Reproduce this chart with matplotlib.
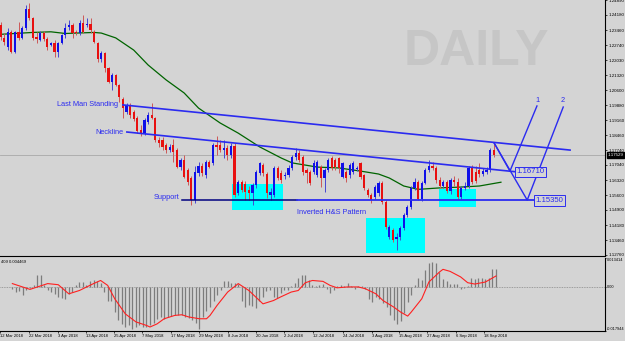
import numpy as np
import matplotlib
matplotlib.use("Agg")
import matplotlib.pyplot as plt
from matplotlib.patches import Rectangle
from matplotlib.transforms import blended_transform_factory

plt.rcParams['font.family'] = ['Liberation Sans', 'DejaVu Sans']

# EURUSD daily bars, mid March 2018 -> 21 Sep 2018
opens = [1.2370, 1.2309, 1.2266, 1.2337, 1.2242, 1.2337, 1.2309, 1.2356, 1.2447, 1.2404,
         1.2313, 1.2299, 1.2332, 1.2304, 1.2275, 1.2285, 1.2242, 1.2285, 1.2323, 1.2361,
         1.2370, 1.2337, 1.2332, 1.2380, 1.2370, 1.2375, 1.2337, 1.2285, 1.2209, 1.2237,
         1.2166, 1.2099, 1.2132, 1.2085, 1.2018, 1.1956, 1.1985, 1.1956, 1.1928, 1.1871,
         1.1856, 1.1909, 1.1942, 1.1928, 1.1823, 1.1823, 1.1799, 1.1775, 1.1799, 1.1775,
         1.1694, 1.1728, 1.1680, 1.1642, 1.1537, 1.1666, 1.1699, 1.1656, 1.1718, 1.1714,
         1.1799, 1.1799, 1.1775, 1.1785, 1.1752, 1.1794, 1.1571, 1.1623, 1.1614, 1.1585,
         1.1571, 1.1609, 1.1666, 1.1704, 1.1661, 1.1561, 1.1561, 1.1690, 1.1666, 1.1652,
         1.1656, 1.1690, 1.1742, 1.1761, 1.1742, 1.1680, 1.1671, 1.1671, 1.1656, 1.1694,
         1.1642, 1.1680, 1.1737, 1.1728, 1.1737, 1.1647, 1.1671, 1.1656, 1.1671, 1.1685,
         1.1714, 1.1656, 1.1585, 1.1561, 1.1552, 1.1571, 1.1618, 1.1528, 1.1361, 1.1395,
         1.1352, 1.1361, 1.1404, 1.1466, 1.1504, 1.1595, 1.1623, 1.1542, 1.1618, 1.1680,
         1.1699, 1.1690, 1.1633, 1.1604, 1.1623, 1.1580, 1.1633, 1.1623, 1.1552, 1.1595,
         1.1604, 1.1690, 1.1671, 1.1680, 1.1661, 1.1671, 1.1680, 1.1775]
closes = [1.2313, 1.2290, 1.2337, 1.2242, 1.2337, 1.2309, 1.2356, 1.2447, 1.2404, 1.2309,
          1.2304, 1.2332, 1.2304, 1.2266, 1.2285, 1.2242, 1.2285, 1.2323, 1.2356, 1.2370,
          1.2332, 1.2332, 1.2380, 1.2337, 1.2375, 1.2347, 1.2290, 1.2209, 1.2237, 1.2166,
          1.2099, 1.2132, 1.2085, 1.2028, 1.1975, 1.1990, 1.1942, 1.1923, 1.1866, 1.1856,
          1.1918, 1.1942, 1.1928, 1.1823, 1.1809, 1.1790, 1.1775, 1.1790, 1.1766, 1.1694,
          1.1728, 1.1647, 1.1623, 1.1537, 1.1671, 1.1699, 1.1666, 1.1718, 1.1694, 1.1799,
          1.1790, 1.1775, 1.1785, 1.1752, 1.1794, 1.1561, 1.1623, 1.1585, 1.1576, 1.1571,
          1.1609, 1.1671, 1.1714, 1.1666, 1.1571, 1.1576, 1.1690, 1.1642, 1.1633, 1.1656,
          1.1690, 1.1742, 1.1761, 1.1728, 1.1671, 1.1666, 1.1618, 1.1714, 1.1718, 1.1642,
          1.1680, 1.1728, 1.1690, 1.1694, 1.1690, 1.1714, 1.1642, 1.1704, 1.1714, 1.1690,
          1.1647, 1.1595, 1.1561, 1.1537, 1.1599, 1.1618, 1.1528, 1.1409, 1.1409, 1.1347,
          1.1361, 1.1404, 1.1466, 1.1504, 1.1595, 1.1623, 1.1542, 1.1618, 1.1680, 1.1699,
          1.1690, 1.1633, 1.1604, 1.1623, 1.1580, 1.1633, 1.1623, 1.1552, 1.1595, 1.1604,
          1.1690, 1.1623, 1.1628, 1.1661, 1.1675, 1.1680, 1.1775, 1.1752]
highs = [1.2385, 1.2332, 1.2356, 1.2347, 1.2342, 1.2385, 1.2366, 1.2466, 1.2475, 1.2408,
         1.2337, 1.2342, 1.2342, 1.2313, 1.2290, 1.2299, 1.2290, 1.2328, 1.2380, 1.2394,
         1.2380, 1.2347, 1.2394, 1.2418, 1.2404, 1.2404, 1.2347, 1.2290, 1.2247, 1.2242,
         1.2170, 1.2142, 1.2137, 1.2090, 1.2028, 1.1999, 1.1999, 1.1966, 1.1937, 1.1894,
         1.1928, 1.1956, 1.1999, 1.1933, 1.1837, 1.1837, 1.1809, 1.1804, 1.1828, 1.1785,
         1.1737, 1.1752, 1.1690, 1.1652, 1.1699, 1.1718, 1.1714, 1.1728, 1.1728, 1.1809,
         1.1842, 1.1823, 1.1823, 1.1799, 1.1809, 1.1809, 1.1633, 1.1633, 1.1628, 1.1604,
         1.1618, 1.1680, 1.1718, 1.1714, 1.1671, 1.1595, 1.1699, 1.1699, 1.1680, 1.1671,
         1.1704, 1.1752, 1.1785, 1.1775, 1.1752, 1.1690, 1.1680, 1.1728, 1.1728, 1.1704,
         1.1690, 1.1737, 1.1747, 1.1737, 1.1742, 1.1718, 1.1680, 1.1714, 1.1723, 1.1699,
         1.1718, 1.1661, 1.1595, 1.1571, 1.1609, 1.1628, 1.1628, 1.1537, 1.1418, 1.1404,
         1.1380, 1.1414, 1.1476, 1.1514, 1.1604, 1.1642, 1.1633, 1.1628, 1.1690, 1.1728,
         1.1718, 1.1699, 1.1647, 1.1633, 1.1633, 1.1642, 1.1652, 1.1642, 1.1604, 1.1623,
         1.1699, 1.1704, 1.1699, 1.1714, 1.1690, 1.1694, 1.1785, 1.1809]
lows = [1.2299, 1.2275, 1.2251, 1.2237, 1.2237, 1.2299, 1.2304, 1.2347, 1.2394, 1.2299,
        1.2285, 1.2294, 1.2294, 1.2251, 1.2270, 1.2218, 1.2218, 1.2280, 1.2309, 1.2347,
        1.2309, 1.2323, 1.2323, 1.2332, 1.2361, 1.2332, 1.2285, 1.2194, 1.2194, 1.2147,
        1.2094, 1.2061, 1.2080, 1.2004, 1.1928, 1.1947, 1.1928, 1.1914, 1.1856, 1.1842,
        1.1847, 1.1899, 1.1923, 1.1813, 1.1790, 1.1775, 1.1761, 1.1766, 1.1718, 1.1690,
        1.1680, 1.1642, 1.1609, 1.1514, 1.1523, 1.1652, 1.1652, 1.1642, 1.1690, 1.1704,
        1.1752, 1.1766, 1.1737, 1.1728, 1.1737, 1.1552, 1.1561, 1.1576, 1.1537, 1.1537,
        1.1514, 1.1595, 1.1656, 1.1652, 1.1547, 1.1537, 1.1552, 1.1633, 1.1618, 1.1637,
        1.1647, 1.1680, 1.1728, 1.1718, 1.1656, 1.1618, 1.1609, 1.1661, 1.1647, 1.1599,
        1.1576, 1.1671, 1.1680, 1.1680, 1.1666, 1.1642, 1.1623, 1.1642, 1.1661, 1.1675,
        1.1637, 1.1585, 1.1552, 1.1523, 1.1542, 1.1557, 1.1518, 1.1399, 1.1352, 1.1338,
        1.1299, 1.1347, 1.1395, 1.1457, 1.1495, 1.1585, 1.1537, 1.1533, 1.1614, 1.1671,
        1.1680, 1.1618, 1.1595, 1.1595, 1.1571, 1.1566, 1.1604, 1.1542, 1.1542, 1.1585,
        1.1595, 1.1614, 1.1618, 1.1647, 1.1652, 1.1661, 1.1671, 1.1742]

# moving average (green), read at a few bars
ma_bar = [0, 9, 14, 18, 26, 28, 32, 37, 41, 46, 51, 55, 61, 66, 72, 78, 81, 88, 94,
          100, 105, 108, 112, 116, 122, 128, 133, 139]
ma_val = [1.2326, 1.2335, 1.2338, 1.2330, 1.2335, 1.2332, 1.2309, 1.2251, 1.2180, 1.2109,
          1.2047, 1.1975, 1.1904, 1.1856, 1.1790, 1.1737, 1.1714, 1.1694, 1.1690,
          1.1675, 1.1661, 1.1642, 1.1604, 1.1588, 1.1595, 1.1599, 1.1604, 1.1622]

# MACD histogram, one value per bar
macd_hist = [-0.0009, -0.0023, -0.0018, -0.0036, -0.0014, -0.0005, 0.0009, 0.0054, 0.0054, 0.0009,
             -0.0014, -0.0023, -0.0032, -0.0045, -0.0050, -0.0054, -0.0032, -0.0023, 0.0009, 0.0023,
             0.0023, 0.0009, 0.0027, 0.0032, 0.0027, 0.0018, -0.0023, -0.0063, -0.0063, -0.0113,
             -0.0149, -0.0167, -0.0180, -0.0171, -0.0189, -0.0180, -0.0171, -0.0180, -0.0180, -0.0171,
             -0.0162, -0.0144, -0.0135, -0.0144, -0.0135, -0.0131, -0.0126, -0.0126, -0.0126, -0.0135,
             -0.0140, -0.0149, -0.0162, -0.0189, -0.0135, -0.0108, -0.0090, -0.0063, -0.0036, -0.0014,
             0.0027, 0.0027, 0.0018, 0.0018, 0.0014, -0.0063, -0.0090, -0.0081, -0.0086, -0.0095,
             -0.0063, -0.0045, -0.0018, -0.0014, -0.0045, -0.0050, -0.0027, -0.0014, -0.0014, 0.0005,
             0.0018, 0.0041, 0.0054, 0.0054, 0.0032, 0.0009, 0.0005, 0.0009, 0.0014, -0.0009,
             -0.0027, -0.0014, 0.0005, 0.0009, 0.0005, 0.0018, 0.0005, -0.0009, 0.0005, 0.0005,
             -0.0009, -0.0054, -0.0068, -0.0045, -0.0054, -0.0072, -0.0090, -0.0126, -0.0149, -0.0167,
             -0.0153, -0.0117, -0.0068, -0.0036, 0.0009, 0.0041, 0.0032, 0.0077, 0.0108, 0.0113,
             0.0108, 0.0068, 0.0036, 0.0027, 0.0014, 0.0014, 0.0014, -0.0009, -0.0005, 0.0005,
             0.0041, 0.0036, 0.0041, 0.0041, 0.0036, 0.0041, 0.0081, 0.0081]
# signal line (red)
sig_bar = [0, 5, 10, 13, 16, 19, 23, 25, 27, 29, 32, 35, 38, 39, 41, 43, 46, 48, 50, 53,
           55, 56, 58, 61, 64, 67, 70, 71, 74, 76, 79, 81, 83, 85, 88, 90, 92, 95, 98,
           100, 103, 105, 108, 110, 112, 113, 116, 118, 121, 122, 124, 127, 129, 131, 134, 137]
sig_val = [0.0014, -0.0012, 0.0014, 0.0009, -0.0032, -0.0017, 0.0014, 0.0028, 0.0006, -0.0054,
           -0.0122, -0.0158, -0.0174, -0.0181, -0.0167, -0.0144, -0.0129, -0.0126, -0.0136, -0.0144,
           -0.0144, -0.0129, -0.0084, -0.0024, 0.0014, -0.0017, -0.0062, -0.0077, -0.0062, -0.0046,
           -0.0024, -0.0017, 0.0018, 0.0028, 0.0024, 0.0006, -0.0005, -0.0001, -0.0001,
           -0.0009, -0.0032, -0.0062, -0.0091, -0.0114, -0.0132, -0.0114, -0.0054, 0.0021, 0.0066,
           0.0078, 0.0069, 0.0044, 0.0018, 0.0012, 0.0021, 0.0048]

price_ticks = [1.24890, 1.24180, 1.23460, 1.22740, 1.22030, 1.21320, 1.20600, 1.19880, 1.19160,
               1.18460, 1.17740, 1.17040, 1.16320, 1.15600, 1.14900, 1.14180, 1.13460, 1.12760]
date_labels = ["12 Mar 2018", "22 Mar 2018", "3 Apr 2018", "13 Apr 2018", "25 Apr 2018",
               "7 May 2018", "17 May 2018", "29 May 2018", "8 Jun 2018", "20 Jun 2018",
               "2 Jul 2018", "12 Jul 2018", "24 Jul 2018", "3 Aug 2018", "15 Aug 2018",
               "27 Aug 2018", "6 Sep 2018", "18 Sep 2018"]
date_pos = [-3.5, 4.6, 12.9, 21.0, 28.8, 36.8, 44.9, 52.9, 61.0, 69.0, 77.1, 85.2, 93.8,
            101.8, 109.6, 117.6, 125.7, 133.7]
last_price = 1.17529

bg = '#d4d4d4'
blue = '#2b2bf0'

fig = plt.figure(figsize=(6.25, 3.41), dpi=100)
fig.patch.set_facecolor(bg)
ax = fig.add_axes([0, 85 / 341, 605 / 625, 256 / 341])
axm = fig.add_axes([0, 10 / 341, 605 / 625, 73 / 341])
for a in (ax, axm):
    a.set_facecolor(bg)
    a.spines['left'].set_visible(False)
    a.spines['top'].set_visible(False)
    a.spines['right'].set_linewidth(0.8)
    a.spines['bottom'].set_linewidth(0.8)
    a.set_xlim(-0.14, 167.9)

# price panel
ax.set_ylim(1.12708, 1.24894)
for (x0, y0, w, hgt) in [(64.3, 1.1490, 14.2, 0.0124), (101.5, 1.1285, 16.4, 0.0167),
                         (121.8, 1.1504, 10.3, 0.0086)]:
    ax.add_patch(Rectangle((x0, y0), w, hgt, color='#00ffff', lw=0, zorder=1))

ax.text(132.2, 1.2180, 'DAILY', fontsize=36, fontweight='bold', color='#c6c6c6',
        ha='center', va='baseline', zorder=0.5)
ax.axhline(last_price, color='#a8a8a8', lw=0.6, zorder=0.8)

ax.plot(ma_bar, ma_val, color='#006400', lw=0.9, zorder=2)

o = np.array(opens)
c = np.array(closes)
x = np.arange(len(c))
up = c >= o
ax.vlines(x, lows, highs, colors=np.where(up, '#4646d2', '#cc5858'), lw=0.7, zorder=3)
ax.bar(x, np.maximum(np.abs(c - o), 0.0003), bottom=np.minimum(o, c), width=0.62,
       color=np.where(up, '#1010e8', '#e81010'), linewidth=0, zorder=4)

# pattern lines
ax.plot([34.0, 158.2], [1.1990, 1.1775], color=blue, lw=1.2, zorder=5)
ax.plot([35.1, 143.5], [1.1861, 1.1671], color=blue, lw=1.2, zorder=5)
ax.plot([50.4, 82.4], [1.1537, 1.1537], color='#000080', lw=1.1, zorder=5)
ax.plot([82.4, 148.5], [1.1536, 1.1536], color=blue, lw=1.3, zorder=5)
ax.plot([137.1, 141.5, 149.0], [1.1809, 1.1675, 1.1985], color=blue, lw=1.0, zorder=5)
ax.plot([137.1, 146.3, 156.3], [1.1809, 1.1537, 1.1980], color=blue, lw=1.0, zorder=5)

tfs = 5.3
ax.text(15.7, 1.1994, 'Last Man Standing', color=blue, fontsize=tfs, va='center', zorder=6)
ax.text(26.3, 1.1861, 'Neckline', color=blue, fontsize=tfs, va='center', zorder=6)
ax.text(42.6, 1.1547, 'Support', color=blue, fontsize=tfs, va='center', zorder=6)
ax.text(82.3, 1.1480, 'Inverted H&S Pattern', color=blue, fontsize=tfs, va='center', zorder=6)
ax.text(149.1, 1.2009, '1', color=blue, fontsize=tfs, ha='center', va='center', zorder=6)
ax.text(156.2, 1.2009, '2', color=blue, fontsize=tfs, ha='center', va='center', zorder=6)
for xx, yy, s in [(147.2, 1.1671, '1.16710'), (152.4, 1.1535, '1.15350')]:
    ax.text(xx, yy, s, color=blue, fontsize=tfs + 0.3, ha='center', va='center', zorder=6,
            bbox=dict(boxstyle='square,pad=0.2', fc=bg, ec=blue, lw=0.7))

ax.yaxis.tick_right()
ax.set_yticks(price_ticks)
ax.set_yticklabels(['%.5f' % v for v in price_ticks])
ax.tick_params(axis='y', labelsize=3.2, length=1.5, width=0.5, pad=1)
ax.set_xticks([])
tr = blended_transform_factory(ax.transAxes, ax.transData)
ax.text(1.004, last_price, '%.5f' % last_price, transform=tr, fontsize=3.2, color='white',
        va='center', ha='left', clip_on=False,
        bbox=dict(boxstyle='square,pad=0.2', fc='black', ec='black'))

# MACD panel
axm.set_ylim(-0.0199, 0.0129)
axm.axhline(0, color='#8a8a8a', lw=0.6, ls=(0, (1, 1)))
axm.vlines(x, 0, macd_hist, color='#7c7c7c', lw=0.9)
axm.plot(sig_bar, sig_val, color='#ff2020', lw=0.8)
axm.text(0.002, 0.97, '409 0.004469', transform=axm.transAxes, fontsize=3, va='top')
axm.yaxis.tick_right()
axm.set_yticks([0.0129, 0, -0.0199])
axm.set_yticklabels(['0.013414', '0.00', '-0.017944'])
axm.tick_params(axis='y', labelsize=2.8, length=1.0, width=0.5, pad=0.5)
lbls = axm.get_yticklabels()
lbls[0].set_va('top')
lbls[2].set_va('bottom')
axm.set_xticks(date_pos)
axm.set_xticklabels(date_labels, ha='left')
axm.tick_params(axis='x', labelsize=3.0, length=1.5, width=0.5, pad=1)

fig.savefig('out.png', dpi=100, facecolor=bg)
